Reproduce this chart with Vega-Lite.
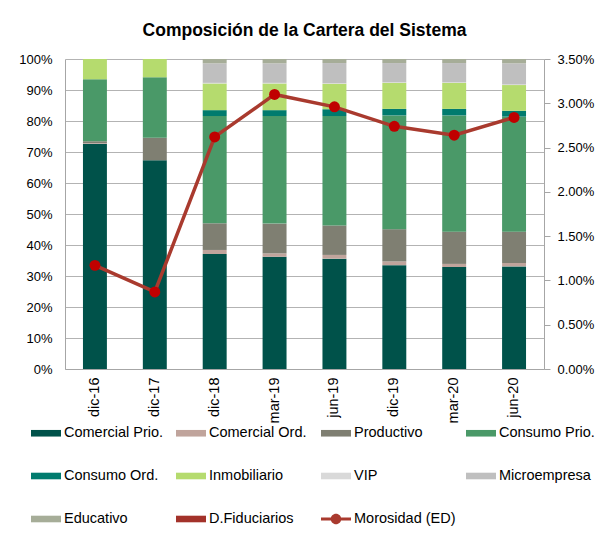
{
  "$schema": "https://vega.github.io/schema/vega-lite/v6.json",
  "width": 479,
  "height": 310,
  "padding": {"left": 18, "right": 5, "top": 21, "bottom": 5},
  "background": "white",
  "title": {
    "text": "Composición de la Cartera del Sistema",
    "font": "Liberation Sans",
    "fontSize": 17.5,
    "fontWeight": "bold",
    "color": "#000000",
    "anchor": "middle",
    "offset": 14
  },
  "config": {
    "font": "Liberation Sans",
    "view": {"stroke": null},
    "axis": {"labelFont": "Liberation Sans", "labelColor": "#000000", "domainColor": "#A6A6A6", "tickColor": "#A6A6A6", "gridColor": "#B3B3B3"}
  },
  "datasets": {
    "series": [
      {"serie": "Comercial Prio.", "orden": 1},
      {"serie": "Comercial Ord.", "orden": 2},
      {"serie": "Productivo", "orden": 3},
      {"serie": "Consumo Prio.", "orden": 4},
      {"serie": "Consumo Ord.", "orden": 5},
      {"serie": "Inmobiliario", "orden": 6},
      {"serie": "VIP", "orden": 7},
      {"serie": "Microempresa", "orden": 8},
      {"serie": "Educativo", "orden": 9},
      {"serie": "D.Fiduciarios", "orden": 10}
    ],
    "cartera": [
      {"fecha": "dic-16", "serie": "Comercial Prio.", "valor": 72.7},
      {"fecha": "dic-16", "serie": "Comercial Ord.", "valor": 0.2},
      {"fecha": "dic-16", "serie": "Productivo", "valor": 0.6},
      {"fecha": "dic-16", "serie": "Consumo Prio.", "valor": 20.0},
      {"fecha": "dic-16", "serie": "Consumo Ord.", "valor": 0.0},
      {"fecha": "dic-16", "serie": "Inmobiliario", "valor": 6.5},
      {"fecha": "dic-16", "serie": "VIP", "valor": 0.0},
      {"fecha": "dic-16", "serie": "Microempresa", "valor": 0.0},
      {"fecha": "dic-16", "serie": "Educativo", "valor": 0.0},
      {"fecha": "dic-16", "serie": "D.Fiduciarios", "valor": 0.0},
      {"fecha": "dic-17", "serie": "Comercial Prio.", "valor": 67.3},
      {"fecha": "dic-17", "serie": "Comercial Ord.", "valor": 0.0},
      {"fecha": "dic-17", "serie": "Productivo", "valor": 7.3},
      {"fecha": "dic-17", "serie": "Consumo Prio.", "valor": 19.5},
      {"fecha": "dic-17", "serie": "Consumo Ord.", "valor": 0.0},
      {"fecha": "dic-17", "serie": "Inmobiliario", "valor": 5.9},
      {"fecha": "dic-17", "serie": "VIP", "valor": 0.0},
      {"fecha": "dic-17", "serie": "Microempresa", "valor": 0.0},
      {"fecha": "dic-17", "serie": "Educativo", "valor": 0.0},
      {"fecha": "dic-17", "serie": "D.Fiduciarios", "valor": 0.0},
      {"fecha": "dic-18", "serie": "Comercial Prio.", "valor": 37.1},
      {"fecha": "dic-18", "serie": "Comercial Ord.", "valor": 1.3},
      {"fecha": "dic-18", "serie": "Productivo", "valor": 8.6},
      {"fecha": "dic-18", "serie": "Consumo Prio.", "valor": 34.6},
      {"fecha": "dic-18", "serie": "Consumo Ord.", "valor": 1.9},
      {"fecha": "dic-18", "serie": "Inmobiliario", "valor": 8.6},
      {"fecha": "dic-18", "serie": "VIP", "valor": 0.2},
      {"fecha": "dic-18", "serie": "Microempresa", "valor": 6.3},
      {"fecha": "dic-18", "serie": "Educativo", "valor": 1.4},
      {"fecha": "dic-18", "serie": "D.Fiduciarios", "valor": 0.0},
      {"fecha": "mar-19", "serie": "Comercial Prio.", "valor": 36.2},
      {"fecha": "mar-19", "serie": "Comercial Ord.", "valor": 1.1},
      {"fecha": "mar-19", "serie": "Productivo", "valor": 9.6},
      {"fecha": "mar-19", "serie": "Consumo Prio.", "valor": 34.7},
      {"fecha": "mar-19", "serie": "Consumo Ord.", "valor": 1.9},
      {"fecha": "mar-19", "serie": "Inmobiliario", "valor": 8.6},
      {"fecha": "mar-19", "serie": "VIP", "valor": 0.2},
      {"fecha": "mar-19", "serie": "Microempresa", "valor": 6.3},
      {"fecha": "mar-19", "serie": "Educativo", "valor": 1.4},
      {"fecha": "mar-19", "serie": "D.Fiduciarios", "valor": 0.0},
      {"fecha": "jun-19", "serie": "Comercial Prio.", "valor": 35.6},
      {"fecha": "jun-19", "serie": "Comercial Ord.", "valor": 1.2},
      {"fecha": "jun-19", "serie": "Productivo", "valor": 9.5},
      {"fecha": "jun-19", "serie": "Consumo Prio.", "valor": 35.3},
      {"fecha": "jun-19", "serie": "Consumo Ord.", "valor": 2.2},
      {"fecha": "jun-19", "serie": "Inmobiliario", "valor": 8.2},
      {"fecha": "jun-19", "serie": "VIP", "valor": 0.2},
      {"fecha": "jun-19", "serie": "Microempresa", "valor": 6.5},
      {"fecha": "jun-19", "serie": "Educativo", "valor": 1.3},
      {"fecha": "jun-19", "serie": "D.Fiduciarios", "valor": 0.0},
      {"fecha": "dic-19", "serie": "Comercial Prio.", "valor": 33.5},
      {"fecha": "dic-19", "serie": "Comercial Ord.", "valor": 1.2},
      {"fecha": "dic-19", "serie": "Productivo", "valor": 10.4},
      {"fecha": "dic-19", "serie": "Consumo Prio.", "valor": 36.7},
      {"fecha": "dic-19", "serie": "Consumo Ord.", "valor": 2.1},
      {"fecha": "dic-19", "serie": "Inmobiliario", "valor": 8.4},
      {"fecha": "dic-19", "serie": "VIP", "valor": 0.2},
      {"fecha": "dic-19", "serie": "Microempresa", "valor": 6.2},
      {"fecha": "dic-19", "serie": "Educativo", "valor": 1.3},
      {"fecha": "dic-19", "serie": "D.Fiduciarios", "valor": 0.0},
      {"fecha": "mar-20", "serie": "Comercial Prio.", "valor": 32.9},
      {"fecha": "mar-20", "serie": "Comercial Ord.", "valor": 1.0},
      {"fecha": "mar-20", "serie": "Productivo", "valor": 10.4},
      {"fecha": "mar-20", "serie": "Consumo Prio.", "valor": 37.5},
      {"fecha": "mar-20", "serie": "Consumo Ord.", "valor": 2.1},
      {"fecha": "mar-20", "serie": "Inmobiliario", "valor": 8.4},
      {"fecha": "mar-20", "serie": "VIP", "valor": 0.2},
      {"fecha": "mar-20", "serie": "Microempresa", "valor": 6.2},
      {"fecha": "mar-20", "serie": "Educativo", "valor": 1.3},
      {"fecha": "mar-20", "serie": "D.Fiduciarios", "valor": 0.0},
      {"fecha": "jun-20", "serie": "Comercial Prio.", "valor": 33.1},
      {"fecha": "jun-20", "serie": "Comercial Ord.", "valor": 1.1},
      {"fecha": "jun-20", "serie": "Productivo", "valor": 10.1},
      {"fecha": "jun-20", "serie": "Consumo Prio.", "valor": 37.1},
      {"fecha": "jun-20", "serie": "Consumo Ord.", "valor": 1.9},
      {"fecha": "jun-20", "serie": "Inmobiliario", "valor": 8.3},
      {"fecha": "jun-20", "serie": "VIP", "valor": 0.2},
      {"fecha": "jun-20", "serie": "Microempresa", "valor": 6.8},
      {"fecha": "jun-20", "serie": "Educativo", "valor": 1.4},
      {"fecha": "jun-20", "serie": "D.Fiduciarios", "valor": 0.0}
    ],
    "morosidad": [
      {"fecha": "dic-16", "serie": "Morosidad (ED)", "mora": 1.17},
      {"fecha": "dic-17", "serie": "Morosidad (ED)", "mora": 0.87},
      {"fecha": "dic-18", "serie": "Morosidad (ED)", "mora": 2.62},
      {"fecha": "mar-19", "serie": "Morosidad (ED)", "mora": 3.10},
      {"fecha": "jun-19", "serie": "Morosidad (ED)", "mora": 2.96},
      {"fecha": "dic-19", "serie": "Morosidad (ED)", "mora": 2.74},
      {"fecha": "mar-20", "serie": "Morosidad (ED)", "mora": 2.64},
      {"fecha": "jun-20", "serie": "Morosidad (ED)", "mora": 2.84}
    ]
  },
  "encoding": {
    "x": {
      "field": "fecha",
      "type": "nominal",
      "sort": ["dic-16", "dic-17", "dic-18", "mar-19", "jun-19", "dic-19", "mar-20", "jun-20"],
      "scale": {"paddingInner": 0.6, "paddingOuter": 0.3},
      "axis": {"title": null, "labelAngle": -90, "labelFontSize": 14.5, "labelPadding": 8, "ticks": false, "domainColor": "#A6A6A6"}
    }
  },
  "layer": [
    {
      "data": {"name": "cartera"},
      "transform": [
        {"lookup": "serie", "from": {"data": {"name": "series"}, "key": "serie", "fields": ["orden"]}}
      ],
      "mark": {"type": "bar"},
      "encoding": {
        "y": {
          "field": "valor",
          "type": "quantitative",
          "stack": "zero",
          "scale": {"domain": [0, 100], "nice": false},
          "axis": {"title": null, "values": [0, 10, 20, 30, 40, 50, 60, 70, 80, 90, 100], "labelExpr": "datum.value + '%'", "labelFontSize": 13, "ticks": false, "labelPadding": 13, "grid": true, "gridColor": "#B3B3B3"}
        },
        "order": {"field": "orden", "type": "quantitative", "sort": "ascending"},
        "color": {
          "field": "serie",
          "type": "nominal",
          "scale": {
            "domain": ["Comercial Prio.", "Comercial Ord.", "Productivo", "Consumo Prio.", "Consumo Ord.", "Inmobiliario", "VIP", "Microempresa", "Educativo", "D.Fiduciarios", "Morosidad (ED)"],
            "range": ["#00524A", "#C0A49C", "#7F7F72", "#4A9968", "#007B6E", "#B5DB6E", "#D9D9D9", "#BFBFBF", "#A6AD98", "#A3322A", "#A93A2E"]
          },
          "legend": {
            "title": null,
            "orient": "none",
            "direction": "horizontal",
            "legendX": -34,
            "legendY": 359,
            "columns": 4,
            "gridAlign": "all",
            "columnPadding": 10,
            "rowPadding": 21,
            "symbolSize": 900,
            "labelFont": "Liberation Sans",
            "labelFontSize": 14.5,
            "labelColor": "#000000",
            "labelOffset": 3,
            "labelLimit": 200,
            "encode": {
              "symbols": {
                "update": {
                  "shape": {"signal": "datum.value === 'Morosidad (ED)' ? 'M-1,-0.1H1V0.1H-1Z M0.35,0A0.35,0.35,0,1,1,-0.35,0A0.35,0.35,0,1,1,0.35,0Z' : 'M-1,-0.22H1V0.22H-1Z'"},
                  "fill": {"signal": "scale('color', datum.value)"},
                  "stroke": {"value": "transparent"},
                  "strokeWidth": {"value": 0},
                  "opacity": {"value": 1}
                }
              }
            }
          }
        }
      }
    },
    {
      "data": {"name": "morosidad"},
      "layer": [
        {
          "mark": {"type": "line", "strokeWidth": 3.5},
          "encoding": {
            "y": {
              "field": "mora",
              "type": "quantitative",
              "scale": {"domain": [0, 3.5], "nice": false},
              "axis": {"title": null, "orient": "right", "values": [0, 0.5, 1, 1.5, 2, 2.5, 3, 3.5], "labelExpr": "format(datum.value, '.2f') + '%'", "labelFontSize": 13, "tickSize": 6, "labelPadding": 7, "grid": false}
            },
            "color": {"field": "serie", "type": "nominal"}
          }
        },
        {
          "mark": {"type": "point", "filled": true, "size": 120, "color": "#C00000", "opacity": 1},
          "encoding": {
            "y": {"field": "mora", "type": "quantitative"}
          }
        }
      ]
    }
  ],
  "resolve": {"scale": {"y": "independent"}}
}
